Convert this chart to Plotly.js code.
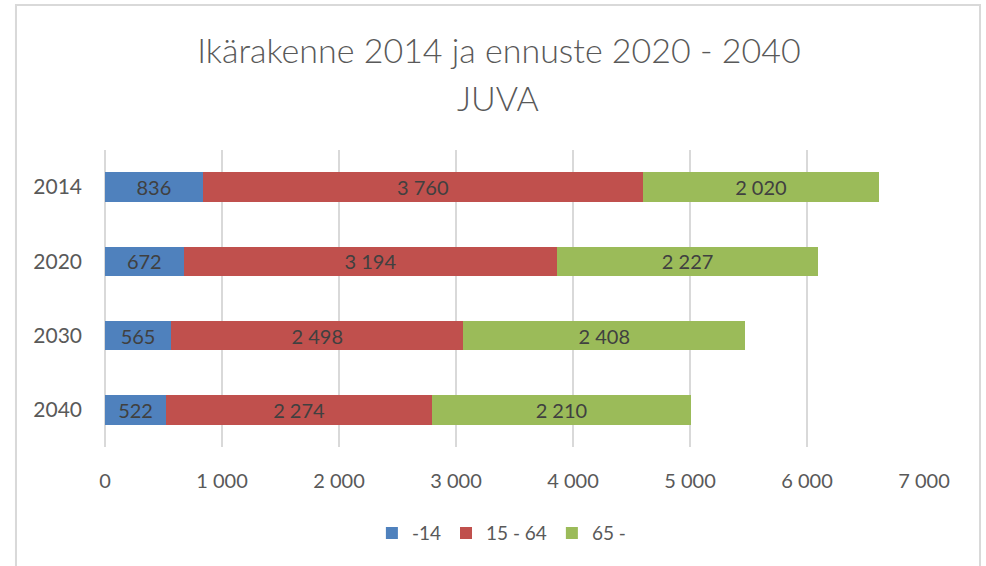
<!DOCTYPE html>
<html>
<head>
<meta charset="utf-8">
<script src="https://cdn.plot.ly/plotly-3.0.1.min.js"></script>
<style>html,body{margin:0;padding:0;background:#fff;}#chart{width:986px;height:566px;}</style>
</head>
<body>
<div id="chart"></div>
<script>
const years = ['2014', '2020', '2030', '2040'];
const seriesNames = ['-14', '15 - 64', '65 -'];
const age0_14 = [836, 672, 565, 522];
const age15_64 = [3760, 3194, 2498, 2274];
const age65 = [2020, 2227, 2408, 2210];
const xTicks = [0, 1000, 2000, 3000, 4000, 5000, 6000, 7000];
const titleLine1 = 'Ikärakenne 2014 ja ennuste 2020 - 2040';
const titleLine2 = 'JUVA';

const colors = ['#4F81BD', '#C0504D', '#9BBB59'];
const values = [age0_14, age15_64, age65];
const FONT = 'Lato, "Open Sans", "Liberation Sans", sans-serif';

const traces = values.map((v, i) => ({
  type: 'bar',
  orientation: 'h',
  name: seriesNames[i],
  y: years,
  x: v,
  marker: {color: colors[i], line: {width: 0}},
  texttemplate: '%{x:,}',
  textposition: 'inside',
  insidetextanchor: 'middle',
  constraintext: 'none',
  textfont: {family: FONT, size: 20, color: '#404040'},
  hoverinfo: 'skip'
}));

const layout = {
  width: 986, height: 566,
  separators: ', ',
  barmode: 'stack',
  bargap: 0.6,
  paper_bgcolor: '#ffffff',
  plot_bgcolor: '#ffffff',
  font: {family: FONT, color: '#595959', size: 18},
  margin: {l: 105, r: 62, t: 150, b: 119},
  title: {
    text: titleLine1,
    font: {family: FONT, size: 34, color: '#595959', weight: 300},
    x: 0.506, xanchor: 'center',
    yref: 'container',
    y: 1 - 51 / 566, yanchor: 'middle'
  },
  annotations: [{
    text: titleLine2,
    xref: 'paper', yref: 'paper',
    x: (498 - 105) / 819, xanchor: 'center',
    y: (447 - 98) / 297, yanchor: 'middle',
    showarrow: false,
    font: {family: FONT, size: 34, color: '#595959', weight: 300}
  }],
  xaxis: {
    range: [0, 7000],
    tickvals: xTicks,
    tickformat: ',',
    showgrid: true, gridcolor: '#D9D9D9', gridwidth: 2,
    zeroline: true, zerolinecolor: '#D9D9D9', zerolinewidth: 2,
    showline: false, ticks: '',
    ticklabelstandoff: 20,
    tickfont: {family: FONT, size: 20, color: '#595959'},
    fixedrange: true
  },
  yaxis: {
    type: 'category',
    categoryorder: 'array',
    categoryarray: years,
    autorange: 'reversed',
    showgrid: false, zeroline: false, showline: false, ticks: '',
    ticklabelstandoff: 22,
    tickfont: {family: FONT, size: 21, color: '#595959'},
    fixedrange: true
  },
  showlegend: true,
  legend: {
    orientation: 'h',
    x: 0.484, xanchor: 'center',
    y: -0.29, yanchor: 'middle',
    traceorder: 'normal',
    font: {family: FONT, size: 19, color: '#595959'},
    itemwidth: 30
  },
  shapes: [{
    type: 'rect', xref: 'paper', yref: 'paper',
    x0: -0.1087, x1: 1.0684, y0: -0.5, y1: 1.488,
    line: {color: '#D9D9D9', width: 2}, fillcolor: 'rgba(0,0,0,0)', layer: 'below'
  }]
};

Plotly.newPlot('chart', traces, layout, {displayModeBar: false, staticPlot: true});
</script>
</body>
</html>
